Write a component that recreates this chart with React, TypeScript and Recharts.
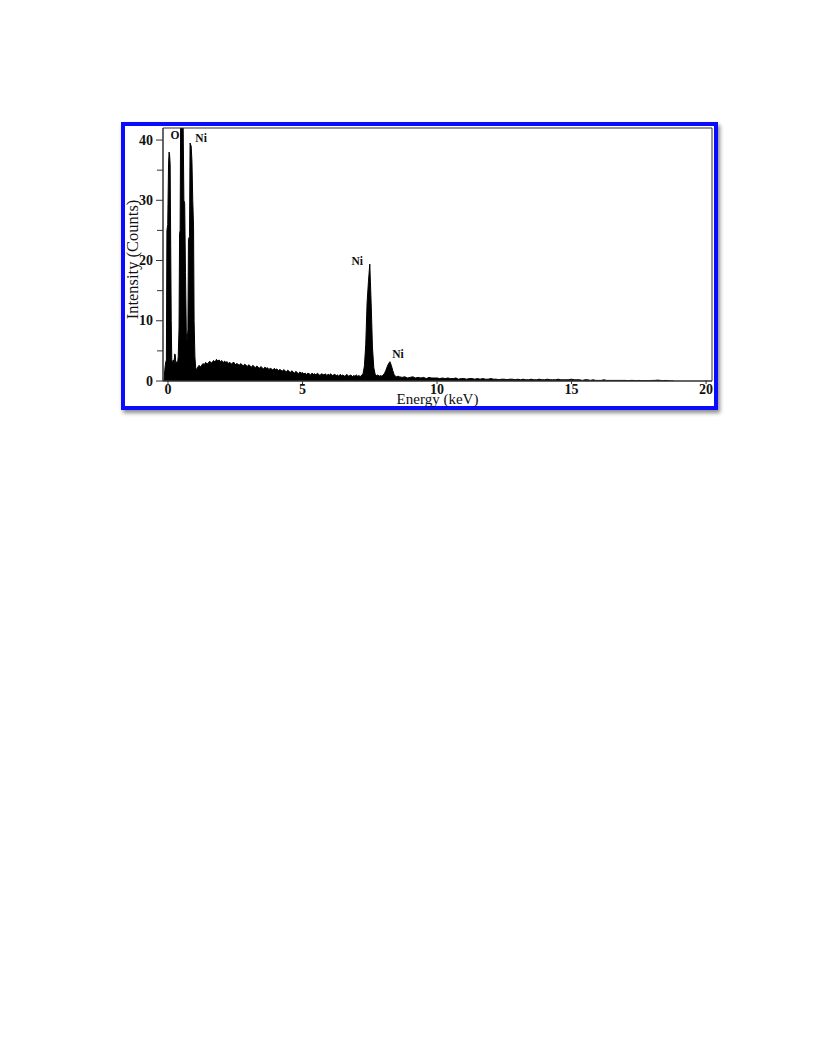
import { Area, ComposedChart, ReferenceArea, ReferenceDot, XAxis, YAxis } from 'recharts';

// low-energy region (C/O/Ni-L), hand-read energy/count pairs
const lowEnergyKeV = [
  -0.15, -0.12, -0.09, -0.06, -0.04, -0.01, 0.02, 0.04, 0.06, 0.08, 0.1, 0.12, 0.14, 0.17, 0.2, 0.22,
  0.25, 0.27, 0.29, 0.32, 0.35, 0.38, 0.41, 0.43, 0.45, 0.47, 0.5, 0.53, 0.56, 0.59, 0.62, 0.65, 0.68,
  0.71, 0.74, 0.76, 0.8, 0.82, 0.86, 0.89, 0.92, 0.95, 0.97, 1.0, 1.03, 1.06, 1.09, 1.12, 1.16,
];
const lowEnergyCounts = [
  0, 1.8, 3, 3.5, 25, 26, 36, 38, 37.5, 36, 22.5, 10, 3.5, 3, 3.5, 2.6,
  4.5, 4.3, 2.8, 3.2, 2.7, 4, 8.8, 24.5, 25, 44, 46, 46, 44, 30, 29.5, 18, 8,
  6.5, 8.5, 23.5, 24, 39.5, 39, 36.5, 30, 25.5, 10, 4, 2.2, 1.8, 2.2, 2.4, 2.6,
];

// bremsstrahlung background, 1.2 to 7.2 keV every 0.05 keV
const backgroundStart = 1.2;
const backgroundCounts = [
  2.3, 2.6, 2.9, 2.7, 3.1, 2.8, 3.0, 3.3, 2.9, 3.2, 3.4, 3.1, 3.6, 3.3, 3.5, 3.2, 3.4, 3.0, 3.3, 3.1,
  3.2, 2.9, 3.1, 2.8, 3.0, 3.1, 2.7, 2.9, 2.8, 2.6, 2.9, 2.7, 2.5, 2.8, 2.6, 2.4, 2.7, 2.5, 2.3, 2.6,
  2.4, 2.2, 2.5, 2.3, 2.1, 2.4, 2.2, 2.0, 2.3, 2.1, 2.2, 1.9, 2.1, 2.0, 1.8, 2.1, 1.9, 2.0, 1.7, 1.9,
  1.8, 1.6, 1.9, 1.7, 1.5, 1.8, 1.6, 1.4, 1.7, 1.5, 1.3, 1.6, 1.4, 1.2, 1.5, 1.3, 1.4, 1.2, 1.3, 1.1,
  1.3, 1.2, 1.0, 1.3, 1.1, 1.2, 1.0, 1.3, 1.1, 0.9, 1.2, 1.1, 1.0, 1.2, 0.9, 1.1, 1.0, 1.2, 0.9, 1.0,
  1.1, 0.9, 1.0, 0.8, 1.1, 0.9, 1.0, 0.8, 0.9, 1.1, 0.8, 0.9, 1.0, 0.7, 0.9, 0.8, 1.0, 0.8, 0.9, 0.7,
  1.0,
];

// Ni K-alpha / K-beta, 7.25 to 8.55 keV every 0.05 keV
const niKStart = 7.25;
const niKCounts = [
  1.2, 2.5, 6, 13, 16.5, 19.4, 13, 5.5, 2.2, 1.1, 0.9, 1.0, 0.8, 0.9, 0.8, 1.0, 1.3, 1.8, 2.4, 2.9,
  3.2, 2.6, 1.8, 1.1, 0.8, 0.7, 0.8,
];

// high-energy tail, 8.6 to 18.8 keV every 0.1 keV
const tailStart = 8.6;
const tailCounts = [
  0.7, 0.6, 0.7, 0.5, 0.6, 0.7, 0.5, 0.6, 0.5, 0.6, 0.4, 0.6, 0.5, 0.5,
  0.5, 0.4, 0.5, 0.4, 0.5, 0.4, 0.4, 0.5, 0.3, 0.4, 0.4, 0.3, 0.4, 0.4, 0.3, 0.4, 0.3, 0.4, 0.3, 0.3,
  0.4, 0.3, 0.3, 0.2, 0.3, 0.3, 0.2, 0.3, 0.3, 0.2, 0.3, 0.2, 0.3, 0.2, 0.2, 0.3, 0.2, 0.2, 0.3, 0.2,
  0.2, 0.3, 0.2, 0.2, 0.2, 0.3, 0.2, 0.2, 0.2, 0.2, 0.3, 0.2, 0.2, 0.2, 0.1, 0.2, 0.2, 0.1, 0.2, 0.1,
  0.1, 0.1, 0.2, 0.1, 0.1, 0.1, 0.1, 0.1, 0.1, 0.1, 0.1, 0.05, 0.1, 0.1, 0.05, 0.1, 0.05, 0.05, 0.05, 0.05,
  0.1, 0.1, 0.15, 0.1, 0.05, 0.1, 0.05, 0, 0,
];

const xTicks = [0, 5, 10, 15, 20];
const yTicks = [0, 5, 10, 15, 20, 25, 30, 35, 40];

const peakLabels = [
  { text: 'O', e: 0.26, c: 40.8 },
  { text: 'Ni', e: 1.23, c: 40.3 },
  { text: 'Ni', e: 7.03, c: 19.9 },
  { text: 'Ni', e: 8.55, c: 4.5 },
];

const X_DOMAIN: [number, number] = [-0.186, 20.22];
const Y_DOMAIN: [number, number] = [0, 42];

const spectrum = [
  ...lowEnergyKeV.map((e, i) => ({ e, c: lowEnergyCounts[i] })),
  ...backgroundCounts.map((c, i) => ({ e: +(backgroundStart + i * 0.05).toFixed(2), c })),
  ...niKCounts.map((c, i) => ({ e: +(niKStart + i * 0.05).toFixed(2), c })),
  ...tailCounts.map((c, i) => ({ e: +(tailStart + i * 0.1).toFixed(2), c })),
];

const font = '"Liberation Serif", "Times New Roman", serif';

function XTick({ x, y, payload }: any) {
  return (
    <g>
      <line x1={x} x2={x} y1={y - 1} y2={y + 3} stroke="#333" />
      <text x={x} y={y + 13} textAnchor="middle" fontFamily={font} fontWeight="bold" fontSize={14} fill="#111">
        {payload.value}
      </text>
    </g>
  );
}

function YTick({ x, y, payload }: any) {
  const major = payload.value % 10 === 0;
  return (
    <g>
      <line x1={x - (major ? 7 : 6)} x2={x} y1={y} y2={y} stroke="#333" />
      {major && (
        <text x={x - 10} y={y + 4.5} textAnchor="end" fontFamily={font} fontWeight="bold" fontSize={14} fill="#111">
          {payload.value}
        </text>
      )}
    </g>
  );
}

function YTitle({ viewBox }: any) {
  const cx = viewBox.x + 11.5;
  const cy = viewBox.y + viewBox.height / 2 + 5;
  return (
    <text x={cx} y={cy} transform={`rotate(-90 ${cx} ${cy})`} textAnchor="middle" dominantBaseline="central"
      fontFamily={font} fontSize={16.5} fill="#111">
      Intensity (Counts)
    </text>
  );
}

function PeakLabel({ viewBox, value }: any) {
  const cx = viewBox.x + (viewBox.width || 0) / 2;
  const cy = viewBox.y + (viewBox.height || 0) / 2;
  return (
    <text x={cx} y={cy + 4} textAnchor="middle" fontFamily={font} fontWeight="bold" fontSize={11.5} fill="#111">
      {value}
    </text>
  );
}

export default function App() {
  return (
    <div style={{ position: 'absolute', left: 121, top: 122, width: 597, height: 288 }}>
      {/* blue frame behind the chart */}
      <div
        style={{
          position: 'absolute',
          inset: 0,
          boxSizing: 'border-box',
          border: '4px solid #0b0bff',
          boxShadow: '2px 3px 4px rgba(0,0,0,0.45)',
          background: '#fff',
        }}
      />
      <div style={{ position: 'absolute', left: 0, top: 0 }}>
        <ComposedChart width={597} height={288} data={spectrum} margin={{ top: 6, right: 6, bottom: 4, left: 0 }}>
          <XAxis
            dataKey="e"
            type="number"
            domain={X_DOMAIN}
            allowDataOverflow
            ticks={xTicks}
            tick={<XTick />}
            tickLine={false}
            tickSize={0}
            tickMargin={0}
            axisLine={{ stroke: '#333' }}
            height={25}
            label={{ value: 'Energy (keV)', position: 'insideBottom', offset: 2, fontFamily: font, fontSize: 15, fill: '#111' }}
          />
          <YAxis
            type="number"
            domain={Y_DOMAIN}
            allowDataOverflow
            ticks={yTicks}
            tick={<YTick />}
            tickLine={false}
            tickSize={0}
            tickMargin={0}
            axisLine={{ stroke: '#333' }}
            width={42}
            label={<YTitle />}
          />
          <Area
            type="linear"
            dataKey="c"
            stroke="#000"
            strokeWidth={1}
            fill="#000"
            fillOpacity={1}
            isAnimationActive={false}
            dot={false}
            activeDot={false}
          />
          <ReferenceArea x1={X_DOMAIN[0]} x2={X_DOMAIN[1]} y1={Y_DOMAIN[0]} y2={Y_DOMAIN[1]} fill="none" stroke="#333" />
          {peakLabels.map((p, i) => (
            <ReferenceDot key={i} x={p.e} y={p.c} r={0} fill="none" stroke="none" label={<PeakLabel value={p.text} />} />
          ))}
        </ComposedChart>
      </div>
    </div>
  );
}
